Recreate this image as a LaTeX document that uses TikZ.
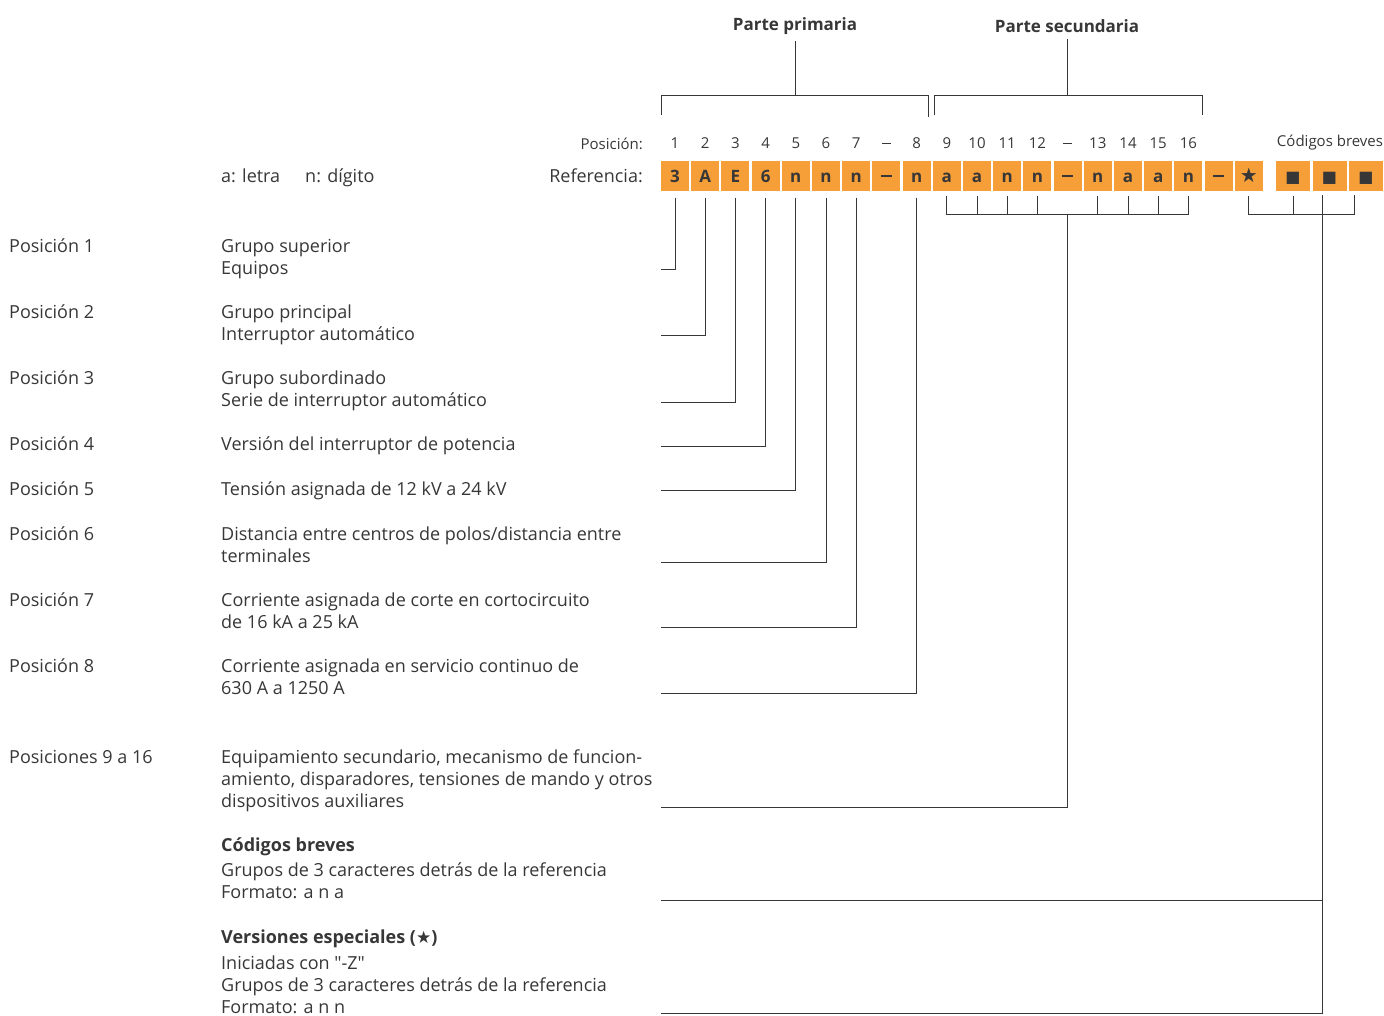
\documentclass[tikz,border=0pt]{standalone}
\usepackage{fontspec}
\setmainfont{Open Sans}[Ligatures=TeXOff]
\newfontfamily\symfont{DejaVu Sans}
\usetikzlibrary{calc,positioning}
\definecolor{refora}{RGB}{246,158,56}
\definecolor{txtgray}{RGB}{55,55,55}
\newcommand{\boxdash}{\rule[5pt]{11pt}{1.8pt}}
\newcommand{\numdash}{\rule[4.2pt]{9pt}{1.1pt}}
\tikzset{
	conn/.style={draw=txtgray, line width=0.9pt},
	head/.style={font=\bfseries\fontsize{17}{20}\selectfont, text=txtgray},
	refbox/.style={fill=refora, minimum width=28pt, minimum height=30pt, inner sep=0pt,
		text height=13pt, text depth=0pt,
		font=\bfseries\fontsize{17}{20}\selectfont, text=txtgray},
	codebox/.style={refbox, minimum width=34pt},
	num/.style={font=\fontsize{15}{18}\selectfont, text=txtgray},
	numrow/.style={num, text height=11pt, text depth=0pt},
	lbl/.style={anchor=base west, inner sep=0pt, align=left,
		font=\fontsize{18}{22}\selectfont, text=txtgray},
	desc/.style={lbl, execute at begin node=\setlength{\baselineskip}{22pt}},
}
\begin{document}
\begin{tikzpicture}[x=1pt,y=-1pt]
	\useasboundingbox (0,0) rectangle (1384,1015);
	% upper part: headers and brackets
	\node[head] (pri) at (795,26) {Parte primaria};
	\node[head] (sec) at (1067,26) {Parte secundaria};
	\foreach \ch [count=\i] in {3,A,E,6,n,n,n,\boxdash,n,a,a,n,n,\boxdash,n,a,a,n,\boxdash,{\symfont\fontsize{20}{20}\selectfont ★}}
		\node[refbox] (b\i) at ({675+(\i-1)*30.2},175.5) {\ch};
	\foreach \x [count=\i] in {1293,1329.5,1366}
		\node[codebox] (c\i) at (\x,175.5) {\symfont\fontsize{16}{16}\selectfont ■};
	\foreach \t [count=\i] in {1,2,3,4,5,6,7,\numdash,8,9,10,11,12,\numdash,13,14,15,16}
		\node[numrow] (n\i) at ({675+(\i-1)*30.2},142.5) {\t};
	\node[num, anchor=east, inner sep=0pt] (posi) at (643,144) {Posición:};
	\node[num] (cbrev) at (1330,143) {Códigos breves};
	\node[lbl, anchor=east] (refe) at (643,176) {Referencia:};
	\node[lbl] (letra) at (221,182) {a: letra};
	\node[lbl] (digito) at (305,182) {n: dígito};

	\coordinate (pl) at (661,115);
	\coordinate (pr) at (928,117);
	\coordinate (sl) at (934,115);
	\coordinate (sr) at (1202,115);
	\draw[conn] (pl) |- (pr |- 0,95) -- (pr);
	\draw[conn] (sl) |- (sr |- 0,95) -- (sr);
	\draw[conn] ([yshift=-3pt]pri.south) -- (pri.south |- 0,95);
	\draw[conn] ([yshift=-3pt]sec.south) -- (sec.south |- 0,95);

	% left column
	\node[lbl] (p1) at (9,252) {Posición 1};
	\node[lbl] (p2) at (9,318) {Posición 2};
	\node[lbl] (p3) at (9,384) {Posición 3};
	\node[lbl] (p4) at (9,450) {Posición 4};
	\node[lbl] (p5) at (9,495) {Posición 5};
	\node[lbl] (p6) at (9,540) {Posición 6};
	\node[lbl] (p7) at (9,606) {Posición 7};
	\node[lbl] (p8) at (9,672) {Posición 8};
	\node[lbl] (p9) at (9,763) {Posiciones 9 a 16};

	% descriptions (anchored at the baseline of their last line)
	\node[desc] (d1) at (221,274) {Grupo superior\\Equipos};
	\node[desc] (d2) at (221,340) {Grupo principal\\Interruptor automático};
	\node[desc] (d3) at (221,406) {Grupo subordinado\\Serie de interruptor automático};
	\node[desc] (d4) at (221,450) {Versión del interruptor de potencia};
	\node[desc] (d5) at (221,495) {Tensión asignada de 12 kV a 24 kV};
	\node[desc] (d6) at (221,562) {Distancia entre centros de polos/distancia entre\\terminales};
	\node[desc] (d7) at (221,628) {Corriente asignada de corte en cortocircuito\\de 16 kA a 25 kA};
	\node[desc] (d8) at (221,694) {Corriente asignada en servicio continuo de\\630 A a 1250 A};
	\node[desc] (d9) at (221,807) {Equipamiento secundario, mecanismo de funcion-\\amiento, disparadores, tensiones de mando y otros\\dispositivos auxiliares};
	\node[desc] (d10) at (221,898) {\textbf{Códigos breves}\\[3pt]Grupos de 3 caracteres detrás de la referencia\\Formato: a n a};
	\node[desc] (d11) at (221,1013) {\textbf{Versiones especiales ({\symfont\fontsize{17}{16}\selectfont ★})}\\[4pt]Iniciadas con "-Z"\\Grupos de 3 caracteres detrás de la referencia\\Formato: a n n};

	% connectors of positions 1 to 8
	\coordinate (e1) at (661,269);
	\coordinate (e2) at (661,335);
	\coordinate (e3) at (661,402);
	\coordinate (e4) at (661,446);
	\coordinate (e5) at (661,490);
	\coordinate (e6) at (661,562);
	\coordinate (e7) at (661,627);
	\coordinate (e9) at (661,693);
	\foreach \i in {1,...,7,9}
		\draw[conn] ([yshift=-7pt]b\i.south) |- (e\i);

	% positions 9 to 16
	\coordinate (k) at (661,807);
	\foreach \i in {10,11,12,13,15,16,17,18}
		\draw[conn] ([yshift=-5pt]b\i.south) -- ([yshift=-24pt]b\i.south);
	\draw[conn] ([yshift=-24pt]b10.south) -- ([yshift=-24pt]b18.south);
	\draw[conn] ([yshift=-24pt]b14.south) |- (k);

	% short codes and special versions
	\coordinate (cb) at (661,900);
	\coordinate (ve) at (661,1013);
	\coordinate (ct) at (1322.5,195);
	\coordinate (cq) at (1354,195);
	\draw[conn] ([yshift=-5pt]b20.south) |- (cq |- 0,214) -- (cq);
	\draw[conn] ([yshift=-5pt]c1.south) -- ([yshift=-24pt]c1.south);
	\draw[conn] (ct) |- (ve);
	\draw[conn] (ct |- cb) -- (cb);
\end{tikzpicture}
\end{document}
